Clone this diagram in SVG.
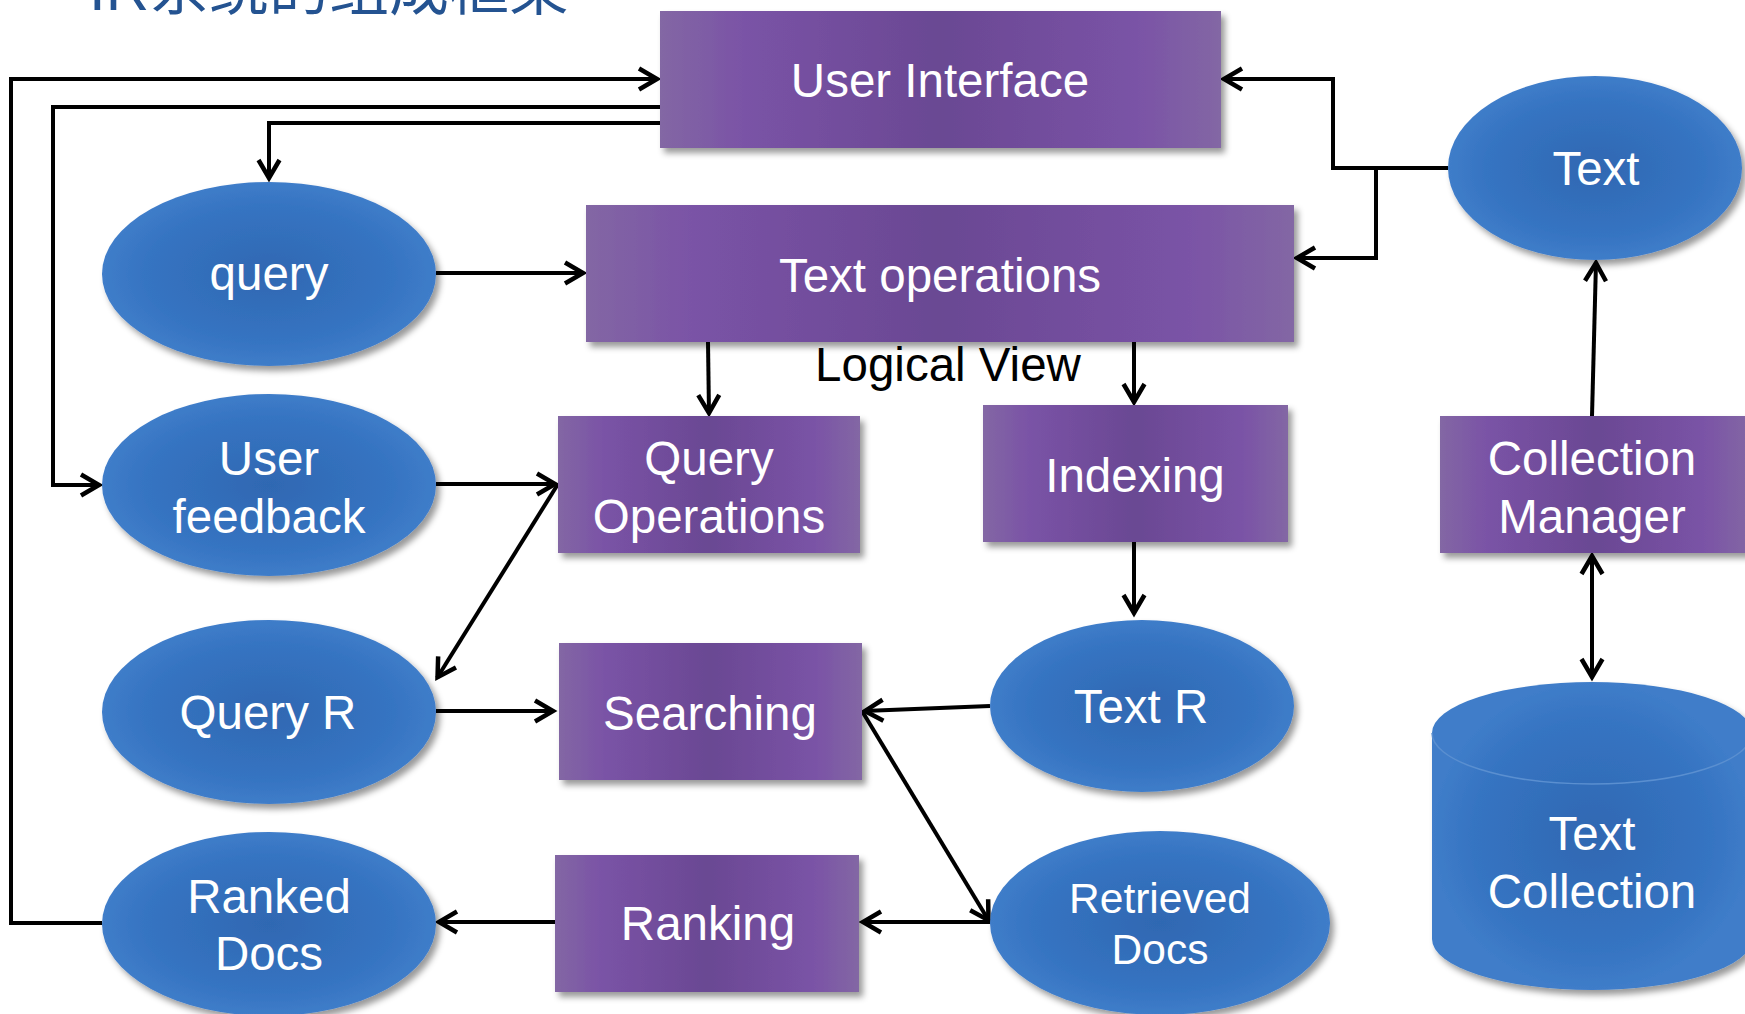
<svg xmlns="http://www.w3.org/2000/svg" width="1745" height="1014" viewBox="0 0 1745 1014">
<style>
.lbl{font-family:"Liberation Sans",Arial,sans-serif;font-size:47.5px;fill:#ffffff;text-anchor:middle}
.sm{font-size:42.5px}
.blk{fill:#000000}
.box{fill:url(#pg);filter:url(#sh)}
.ell{fill:url(#bg);filter:url(#sh)}
.cn{fill:none;stroke:#000;stroke-width:4;stroke-linejoin:miter}
.arr{marker-end:url(#ah)}
.title{font-family:"Liberation Sans","Noto Sans CJK SC",sans-serif;font-size:60px;fill:#245391}
</style>
<defs>
<linearGradient id="pg" x1="0" y1="0" x2="1" y2="0">
<stop offset="0" stop-color="#8367A4"/>
<stop offset="0.15" stop-color="#7A53A6"/>
<stop offset="0.5" stop-color="#6A4893"/>
<stop offset="0.85" stop-color="#7A53A6"/>
<stop offset="1" stop-color="#8367A4"/>
</linearGradient>
<radialGradient id="bg" cx="0.5" cy="0.5" r="0.5">
<stop offset="0" stop-color="#2F68B2"/>
<stop offset="0.75" stop-color="#3674C2"/>
<stop offset="1" stop-color="#3F7DC9"/>
</radialGradient>
<filter id="sh" x="-10%" y="-10%" width="125%" height="130%">
<feDropShadow dx="4" dy="5" stdDeviation="3" flood-color="#000" flood-opacity="0.4"/>
</filter>
<marker id="ah" viewBox="0 0 24 26" refX="21" refY="13" markerWidth="24" markerHeight="26" markerUnits="userSpaceOnUse" orient="auto-start-reverse" overflow="visible">
<path d="M2,2.5 L20,13 L2,23.5" fill="none" stroke="#000" stroke-width="4.5"/>
</marker>
</defs>
<rect width="1745" height="1014" fill="#ffffff"/>
<text class="title" x="89" y="10">IR系统的组成框架</text>

<g id="connectors">
<path class="cn arr" d="M102,923 H11 V79 H658"/>
<path class="cn arr" d="M660,107 H53 V485 H100"/>
<path class="cn arr" d="M660,123 H269 V179"/>
<path class="cn arr" d="M436,273 H584"/>
<path class="cn arr" d="M1448,168 H1333 V79 H1223"/>
<path class="cn arr" d="M1376,168 V258 H1296"/>
<path class="cn arr" d="M708,342 L709,414"/>
<path class="cn arr" d="M1134,342 V403"/>
<path class="cn arr" d="M436,484 H556"/>
<path class="cn arr" d="M558,484 L437,678"/>
<path class="cn arr" d="M436,711 H554"/>
<path class="cn arr" d="M1134,542 V614"/>
<path class="cn arr" d="M990,706 L864,711"/>
<path class="cn arr" d="M862,711 L989,921"/>
<path class="cn arr" d="M990,922 H862"/>
<path class="cn arr" d="M555,922 H438"/>
<path class="cn arr" d="M1592,416 L1596,262"/>
<path class="cn arr" d="M1592,555 V678" marker-start="url(#ah)"/>
</g>

<g id="user-interface">
<rect class="box" x="660" y="11" width="561" height="137"/>
<text class="lbl" x="940" y="97">User Interface</text>
</g>
<g id="text-operations">
<rect class="box" x="586" y="205" width="708" height="137"/>
<text class="lbl" x="940" y="292">Text operations</text>
</g>
<g id="logical-view">
<text class="lbl blk" x="948" y="381">Logical View</text>
</g>
<g id="query-operations">
<rect class="box" x="558" y="416" width="302" height="137"/>
<text class="lbl" x="709" y="475">Query</text>
<text class="lbl" x="709" y="533">Operations</text>
</g>
<g id="indexing">
<rect class="box" x="983" y="405" width="305" height="137"/>
<text class="lbl" x="1135" y="492">Indexing</text>
</g>
<g id="collection-manager">
<rect class="box" x="1440" y="416" width="310" height="137"/>
<text class="lbl" x="1592" y="475">Collection</text>
<text class="lbl" x="1592" y="533">Manager</text>
</g>
<g id="searching">
<rect class="box" x="559" y="643" width="303" height="137"/>
<text class="lbl" x="710" y="730">Searching</text>
</g>
<g id="ranking">
<rect class="box" x="555" y="855" width="304" height="137"/>
<text class="lbl" x="708" y="940">Ranking</text>
</g>

<g id="query">
<ellipse class="ell" cx="269" cy="274" rx="167" ry="92"/>
<text class="lbl" x="269" y="290">query</text>
</g>
<g id="user-feedback">
<ellipse class="ell" cx="269" cy="485" rx="167" ry="91"/>
<text class="lbl" x="269" y="475">User</text>
<text class="lbl" x="269" y="533">feedback</text>
</g>
<g id="query-r">
<ellipse class="ell" cx="269" cy="712" rx="167" ry="92"/>
<text class="lbl" x="268" y="729">Query R</text>
</g>
<g id="ranked-docs">
<ellipse class="ell" cx="269" cy="924" rx="167" ry="92"/>
<text class="lbl" x="269" y="913">Ranked</text>
<text class="lbl" x="269" y="970">Docs</text>
</g>
<g id="text">
<ellipse class="ell" cx="1595" cy="168" rx="147" ry="92"/>
<text class="lbl" x="1596" y="185">Text</text>
</g>
<g id="text-r">
<ellipse class="ell" cx="1142" cy="706" rx="152" ry="86"/>
<text class="lbl" x="1141" y="723">Text R</text>
</g>
<g id="retrieved-docs">
<ellipse class="ell" cx="1160" cy="923" rx="170" ry="92"/>
<text class="lbl sm" x="1160" y="913">Retrieved</text>
<text class="lbl sm" x="1160" y="964">Docs</text>
</g>
<g id="text-collection">
<path class="ell" d="M1432,733 A160,51 0 0 1 1752,733 V939 A160,51 0 0 1 1432,939 Z"/>
<path d="M1432,733 A160,51 0 0 0 1752,733" fill="none" stroke="#5A8FD0" stroke-width="1.5"/>
<text class="lbl" x="1592" y="850">Text</text>
<text class="lbl" x="1592" y="908">Collection</text>
</g>
</svg>
